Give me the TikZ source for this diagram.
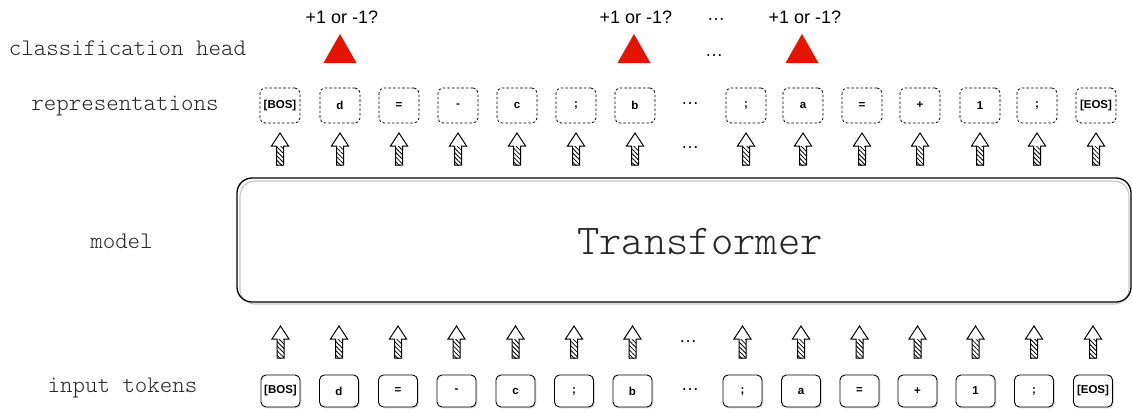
\documentclass[tikz,border=0pt]{standalone}
\usepackage{fontspec}
\setmainfont{Liberation Sans}
\newfontfamily\lmlight{lmmonolt10-regular.otf}
\usetikzlibrary{patterns,patterns.meta,shadows}
\definecolor{trired}{HTML}{E51400}
\tikzset{
  tokbox/.style={draw, line width=0.9pt, rounded corners=5pt, minimum width=39pt, minimum height=32pt,
    inner sep=0pt, fill=white, font=\fontsize{11.5}{12}\selectfont\bfseries,
    drop shadow={shadow xshift=1.3pt, shadow yshift=-1.3pt, opacity=0.3}},
  repbox/.style={draw, line width=0.8pt, dash pattern=on 2.6pt off 2pt, rounded corners=5pt,
    minimum width=40pt, minimum height=35pt, inner sep=0pt, font=\fontsize{11.5}{12}\selectfont\bfseries},
  lbl/.style={font=\lmlight\fontsize{23.8}{26}\selectfont, text=black!85, anchor=base, inner sep=0pt},
  qlbl/.style={font=\fontsize{18}{20}\selectfont, text=black, anchor=base, inner sep=0pt},
  dotlbl/.style={font=\fontsize{18}{20}\selectfont, text=black, anchor=base, inner sep=0pt},
  harrow/.pic={
    \fill[white] (-3.5,0) -- (-3.5,-19) -- (-8.5,-19) -- (0,-32) -- (8.5,-19) -- (3.5,-19) -- (3.5,0) -- cycle;
    \fill[pattern={Lines[angle=-45,distance=3.2pt,line width=0.8pt]}] (-3.5,0) rectangle (3.5,-19);
    \draw[line width=1pt, line join=miter] (-3.5,0) -- (-3.5,-19) -- (-8.5,-19) -- (0,-32) -- (8.5,-19) -- (3.5,-19) -- (3.5,0) -- cycle;
  }
}
\begin{document}
\begin{tikzpicture}[x=1pt,y=-1pt]
\useasboundingbox (0,0) rectangle (1133,413);

% left labels
\node[lbl] (lclass) at (127.5,55) {classification head};
\node[lbl] (lrep) at (125,110) {representations};
\node[lbl] (lmodel) at (121.5,248) {model};
\node[lbl] (linput) at (122.5,392) {input tokens};

% classification head
\foreach \x in {340,634,802}{
  \fill[trired] (\x-16.5,63) -- (\x,34) -- (\x+16.5,63) -- cycle;
}
\node[qlbl] (q1) at (342,23) {+1 or -1?};
\node[qlbl] (q2) at (636,23) {+1 or -1?};
\node[qlbl] (q3) at (805,23) {+1 or -1?};
\node[dotlbl] (d1) at (716,20) {…};
\node[dotlbl] (d2) at (714,56) {…};

% representations
\foreach \x/\t/\n in {280/{[BOS]}/0,340/d/1,399/=/2,458/-/3,517/c/4,576/;/5,635/b/6,746/;/8,803/a/9,862/=/10,920/+/11,980/1/12,1037/;/13,1096/{[EOS]}/14}{
  \node[repbox] (r\n) at (\x,105.5) {\t};
  \pic at (\x,165) {harrow};
}
\node[dotlbl] (d3) at (690,104) {…};
\node[dotlbl] (d4) at (690,148) {…};

% transformer
\draw[gray!45, line width=1.1pt, rounded corners=15pt] (240,181) rectangle (1129,304);
\node[draw, line width=1.3pt, rounded corners=15pt, minimum width=894pt, minimum height=124pt, inner sep=0pt] (tf) at (684,240) {};
\node[font=\lmlight\fontsize{42.5}{45}\selectfont, text=black!85, inner sep=0pt] (tftext) at (700,242) {Transformer};

% input tokens
\foreach \x/\t/\n in {280.5/{[BOS]}/0,339/d/1,398/=/2,456.5/-/3,515.5/c/4,574/;/5,632.5/b/6,742.5/;/8,801/a/9,859.5/=/10,917.5/+/11,975.5/1/12,1034/;/13,1093/{[EOS]}/14}{
  \node[tokbox] (in\n) at (\x,391) {\t};
  \pic at (\x,358) {harrow};
}
\node[dotlbl] (d5) at (688,342) {…};
\node[dotlbl] (d6) at (690,390) {…};
\end{tikzpicture}
\end{document}
